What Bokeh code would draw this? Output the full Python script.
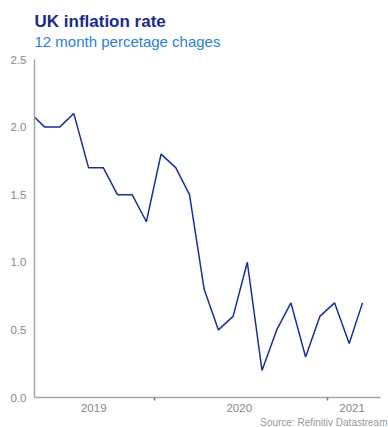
import pandas as pd
from bokeh.plotting import figure
from bokeh.models import (Range1d, FixedTicker, DatetimeTickFormatter, Title,
                          NumeralTickFormatter)
from bokeh.embed import file_html
from bokeh.resources import INLINE

# ---- data ----
months = ["2019-04", "2019-05", "2019-06", "2019-07", "2019-08", "2019-09",
          "2019-10", "2019-11", "2019-12", "2020-01", "2020-02", "2020-03",
          "2020-04", "2020-05", "2020-06", "2020-07", "2020-08", "2020-09",
          "2020-10", "2020-11", "2020-12", "2021-01", "2021-02", "2021-03"]
inflation = [2.1, 2.0, 2.0, 2.1, 1.7, 1.7, 1.5, 1.5, 1.3, 1.8, 1.7, 1.5,
             0.8, 0.5, 0.6, 1.0, 0.2, 0.5, 0.7, 0.3, 0.6, 0.7, 0.4, 0.7]
year_boundaries = ["2020-01-01", "2021-01-01"]
year_label_dates = ["2019-08-26", "2020-06-28", "2021-02-21"]
y_ticks = [0.0, 0.5, 1.0, 1.5, 2.0, 2.5]
x_start, x_end = "2019-04-23", "2021-04-22"
title_text = "UK inflation rate"
subtitle_text = "12 month percetage chages"
source_text = "Source: Refinitiv Datastream"

FONT = "Liberation Sans"


def ms(s):
    return pd.Timestamp(s).value / 1e6


dates = pd.to_datetime([m + "-15" for m in months])

p = figure(width=388, height=427, x_axis_type="datetime",
           output_backend="svg", toolbar_location=None, title=None,
           x_range=Range1d(ms(x_start), ms(x_end)),
           y_range=Range1d(0, 2.5),
           min_border_left=34, min_border_right=8,
           min_border_top=59, min_border_bottom=29)
p.outline_line_color = None
p.xgrid.visible = False
p.ygrid.visible = False
p.background_fill_color = "white"
p.border_fill_color = "white"

p.line(dates, inflation, line_color="#1a2e9c", line_width=1.5)

axis_col = "#a6a6a6"
lab_col = "#888888"

xa = p.xaxis[0]
xa.ticker = FixedTicker(ticks=[ms(d) for d in year_label_dates],
                        minor_ticks=[ms(d) for d in year_boundaries])
fmt = "%Y"
xa.formatter = DatetimeTickFormatter(
    microseconds=fmt, milliseconds=fmt, seconds=fmt, minsec=fmt,
    minutes=fmt, hourmin=fmt, hours=fmt, days=fmt, months=fmt, years=fmt)
xa.axis_line_color = axis_col
xa.axis_line_width = 1.5
xa.major_tick_line_color = None
xa.major_tick_out = 0
xa.major_tick_in = 0
xa.minor_tick_line_color = "#777777"
xa.minor_tick_line_width = 1.5
xa.minor_tick_out = 3
xa.minor_tick_in = 0
xa.major_label_standoff = 3
xa.major_label_text_font = FONT
xa.major_label_text_font_size = "11.5px"
xa.major_label_text_color = lab_col

ya = p.yaxis[0]
ya.ticker = FixedTicker(ticks=y_ticks)
ya.formatter = NumeralTickFormatter(format="0.0")
ya.axis_line_color = axis_col
ya.axis_line_width = 1.5
ya.major_tick_line_color = None
ya.major_tick_out = 0
ya.major_tick_in = 0
ya.minor_tick_line_color = None
ya.major_label_standoff = 8
ya.major_label_text_font = FONT
ya.major_label_text_font_size = "11.5px"
ya.major_label_text_color = lab_col

# subtitle first (closest to the frame), then the main title above it
p.add_layout(Title(text=subtitle_text, align="left", text_font=FONT,
                   text_font_size="15px", text_font_style="normal",
                   text_color="#2b7fd6", standoff=18.6), "above")
p.add_layout(Title(text=title_text, align="left", text_font=FONT,
                   text_font_size="17px", text_font_style="bold",
                   text_color="#1b2a8a", standoff=-19), "above")
p.add_layout(Title(text=source_text, align="right", text_font=FONT,
                   text_font_size="10px", text_font_style="normal",
                   text_color="#999999", standoff=0, offset=-7), "below")

open("out.html", "w").write(file_html(p, INLINE))
